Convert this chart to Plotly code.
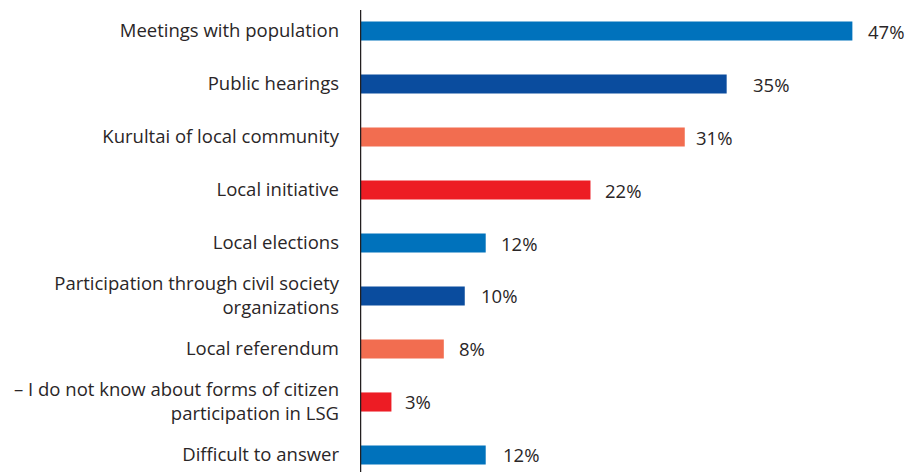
import plotly.graph_objects as go

categories = [
    "Meetings with population",
    "Public hearings",
    "Kurultai of local community",
    "Local initiative",
    "Local elections",
    "Participation through civil society<br>organizations",
    "Local referendum",
    "– I do not know about forms of citizen<br>participation in LSG",
    "Difficult to answer",
]
values = [47, 35, 31, 22, 12, 10, 8, 3, 12]
labels = ["47%", "35%", "31%", "22%", "12%", "10%", "8%", "3%", "12%"]
colors = ["#0072BC", "#0A4C9E", "#F26D50", "#ED1C24",
          "#0072BC", "#0A4C9E", "#F26D50", "#ED1C24", "#0072BC"]
label_gap_px = [14, 24, 9, 13, 13, 14, 13, 12, 15]

FONT = "Open Sans"
TXT = "#2a2627"
FS = 18.5

fig = go.Figure()
fig.add_trace(go.Bar(
    y=categories, x=values, orientation="h",
    marker=dict(color=colors, line=dict(width=0)),
    width=0.36, hoverinfo="skip",
))
for c, v, t, g in zip(categories, values, labels, label_gap_px):
    fig.add_annotation(x=v, y=c, text=t, showarrow=False, xanchor="left",
                       xshift=g, font=dict(family=FONT, size=FS, color=TXT))

fig.add_shape(type="line", xref="x", yref="y", x0=0, x1=0,
              y0=-0.396, y1=8.4, line=dict(color="#231F20", width=2.5))

fig.update_layout(
    width=910, height=472,
    margin=dict(l=360, r=0, t=0, b=0),
    paper_bgcolor="white", plot_bgcolor="white",
    showlegend=False,
    font=dict(family=FONT, size=FS, color=TXT),
    xaxis=dict(range=[0, 52.5], visible=False, fixedrange=True),
    yaxis=dict(range=[8.321, -0.585], showgrid=False, zeroline=False,
               showline=False, ticks="", ticklabelstandoff=20,
               tickfont=dict(family=FONT, size=FS, color=TXT)),
)
fig.write_html("out.html")
